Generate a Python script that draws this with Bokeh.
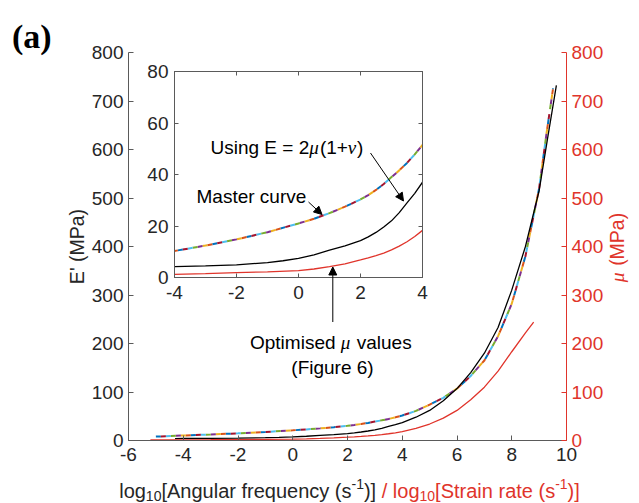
import math
from bokeh.plotting import figure
from bokeh.models import Range1d, LinearAxis, FixedTicker, Label, Arrow, NormalHead, GridBox
from bokeh.embed import file_html
from bokeh.resources import INLINE

# ---------------- data ----------------
x_ticks_main = [-6, -4, -2, 0, 2, 4, 6, 8, 10]
y_ticks_main = [0, 100, 200, 300, 400, 500, 600, 700, 800]
x_ticks_inset = [-4, -2, 0, 2, 4]
y_ticks_inset = [0, 20, 40, 60, 80]

# master curve E' (black)
master_logw = [-4.3, -4, -3, -2, -1, -0.5, 0, 0.5, 1, 1.5, 2, 2.25, 2.5, 2.75, 3, 3.25, 3.5,
               3.75, 4, 4.5, 5, 5.5, 6, 6.5, 7, 7.5, 8, 8.5, 9, 9.3, 9.63]
master_E = [4.0, 4.2, 4.5, 4.9, 5.8, 6.5, 7.4, 8.8, 10.6, 12.3, 14.3, 15.8, 17.5, 19.6, 22.0,
            25.2, 29.0, 32.7, 37.0, 48, 62, 82, 107, 140, 180, 233, 310, 400, 515, 620, 732]

# E computed from mu using E = 2 mu (1 + nu)  (several overlapping series)
conv_logw = [-5.0, -4, -3, -2, -1, 0, 0.5, 1, 1.5, 2, 2.25, 2.5, 2.75, 3, 3.25, 3.5, 3.75, 4,
             4.5, 5, 5.5, 6, 6.5, 7, 7.5, 8, 8.5, 9, 9.27, 9.51]
conv_E = [8.0, 10.3, 12.4, 14.8, 17.6, 21.0, 22.8, 25.0, 27.5, 30.3, 32.0, 34.0, 36.3, 39.0,
          41.6, 44.5, 47.8, 51.5, 61, 74, 88, 107, 133, 165, 215, 282, 380, 520, 633, 726]
conv_colors = ["#0072BD", "#D95319", "#EDB120", "#7E2F8E", "#77AC30", "#4DBEEE", "#A2142F"]
conv_end = [9.51, 9.51, 9.51, 9.51, 9.51, 9.27, 9.51]

# optimised mu values (red) vs log10 strain rate
mu_logr = [-5.2, -4, -3, -2, -1, 0, 0.5, 1, 1.5, 2, 2.25, 2.5, 2.75, 3, 3.25, 3.5, 3.75, 4,
           4.5, 5, 5.5, 6, 6.5, 7, 7.5, 8, 8.5, 8.8]
mu_val = [1.0, 1.2, 1.5, 1.9, 2.2, 2.7, 3.3, 4.2, 5.3, 6.8, 7.6, 8.5, 9.5, 10.7, 12.2, 13.9,
          15.9, 18.3, 25, 34, 46, 62, 84, 110, 143, 183, 222, 244]

# ---------------- style ----------------
W, H = 639, 503
RED = "#E0342B"
AX = "#5a5a5a"
TXT = "#262626"
SANS = "Liberation Sans"
SERIF = "Liberation Serif"
TICK = "19px"
FRAME_L, FRAME_R, FRAME_T, FRAME_B = 128, 566, 52, 440
IFL, IFR, IFT, IFB = 174, 422, 71, 277

SANS_W = {' ': 278, '(': 333, ')': 333, '+': 584, '-': 333, '/': 278, '=': 584, '[': 278,
          ']': 278, "'": 191, 'A': 667, 'E': 667, 'F': 611, 'M': 833, 'O': 778, 'P': 667,
          'S': 667, 'U': 722, 'a': 556, 'c': 500, 'd': 556, 'e': 556, 'f': 278, 'g': 556,
          'i': 222, 'l': 222, 'm': 833, 'n': 556, 'o': 556, 'p': 556, 'q': 556, 'r': 333,
          's': 500, 't': 278, 'u': 556, 'v': 500, 'y': 500}
SERIF_I_W = {'μ': 560, 'ν': 480, ' ': 250}


def text_width(txt, font, size):
    table = SERIF_I_W if font == SERIF else SANS_W
    return sum(table.get(c, 556) for c in txt) / 1000.0 * size


def style_axis(ax, ticks, color=AX, label_color=TXT, standoff=5, tick_len=5):
    ax.ticker = FixedTicker(ticks=ticks)
    ax.major_label_overrides = {t: str(t) for t in ticks}
    ax.axis_line_color = color
    ax.axis_line_width = 1
    ax.major_tick_line_color = color
    ax.major_tick_in = tick_len
    ax.major_tick_out = 0
    ax.minor_tick_line_color = None
    ax.major_label_text_font = SANS
    ax.major_label_text_font_size = TICK
    ax.major_label_text_color = label_color
    ax.major_label_standoff = standoff


# ---------------- main figure ----------------
p = figure(width=W, height=H, x_range=Range1d(-6, 10), y_range=Range1d(0, 800),
           output_backend="svg", toolbar_location=None, frame_align=False,
           min_border_left=FRAME_L, min_border_right=W - FRAME_R,
           min_border_top=FRAME_T, min_border_bottom=H - FRAME_B)
p.grid.visible = False
p.outline_line_color = None
p.background_fill_color = "white"
p.border_fill_color = "white"

style_axis(p.xaxis[0], x_ticks_main, standoff=7)
style_axis(p.yaxis[0], y_ticks_main)
p.yaxis.axis_label = "E' (MPa)"
p.yaxis.axis_label_text_font = SANS
p.yaxis.axis_label_text_font_size = "19.5px"
p.yaxis.axis_label_text_font_style = "normal"
p.yaxis.axis_label_text_color = TXT
p.yaxis.axis_label_standoff = 1

p.extra_y_ranges = {"mu": Range1d(0, 800)}
ry = LinearAxis(y_range_name="mu")
style_axis(ry, y_ticks_main, color=RED, label_color=RED)
p.add_layout(ry, "right")

for i, col in enumerate(conv_colors):
    n = sum(1 for v in conv_logw if v <= conv_end[i])
    p.line(conv_logw[:n], conv_E[:n], line_color=col, line_width=2,
           line_dash="5 30", line_dash_offset=5 * i)
p.line(master_logw, master_E, line_color="black", line_width=1.3)
p.line(mu_logr, mu_val, line_color=RED, line_width=1.3, y_range_name="mu")

# ---------------- inset (same canvas size, frame placed by borders) ----------------
inset = figure(width=W, height=H, x_range=Range1d(-4, 4), y_range=Range1d(0, 80),
               output_backend="svg", toolbar_location=None, frame_align=False,
               min_border_left=IFL, min_border_right=W - IFR,
               min_border_top=IFT, min_border_bottom=H - IFB)
inset.grid.visible = False
inset.background_fill_color = None
inset.border_fill_color = None
inset.outline_line_color = AX
style_axis(inset.xaxis[0], x_ticks_inset, standoff=8, tick_len=4)
style_axis(inset.yaxis[0], y_ticks_inset, standoff=6, tick_len=4)
top_ax = LinearAxis()
right_ax = LinearAxis()
style_axis(top_ax, x_ticks_inset, tick_len=4)
style_axis(right_ax, y_ticks_inset, tick_len=4)
for ax in (top_ax, right_ax):
    ax.major_label_text_font_size = "0px"
    ax.major_label_text_color = None
    ax.major_label_standoff = 0
inset.add_layout(top_ax, "above")
inset.add_layout(right_ax, "right")

for i, col in enumerate(conv_colors):
    inset.line(conv_logw, conv_E, line_color=col, line_width=2,
               line_dash="5 30", line_dash_offset=5 * i)
inset.line(master_logw, master_E, line_color="black", line_width=1.3)
inset.line(mu_logr, mu_val, line_color=RED, line_width=1.3)

# ---------------- text / arrow overlay (frame = whole canvas) ----------------
ov = figure(width=W, height=H, x_range=Range1d(0, W), y_range=Range1d(0, H),
            x_axis_type=None, y_axis_type=None, output_backend="svg", toolbar_location=None,
            frame_align=False,
            min_border_left=0, min_border_right=0, min_border_top=0, min_border_bottom=0)
ov.grid.visible = False
ov.outline_line_color = None
ov.background_fill_color = None
ov.border_fill_color = None


def add_text(pieces, x, y, angle=0.0, center=False):
    """pieces: (text, font, style, size, color, baseline shift down). x,y canvas px."""
    total = sum(text_width(t, f, s) for t, f, st, s, c, d in pieces)
    pos = -total / 2 if center else 0.0
    ca, sa = math.cos(angle), math.sin(angle)
    for t, f, st, s, c, d in pieces:
        stripped = t.lstrip(" ")
        lead = text_width(t[:len(t) - len(stripped)], f, s)
        q = pos + lead
        cx = x + q * ca + d * sa
        cy = y - q * sa + d * ca
        ov.add_layout(Label(x=cx, y=H - cy, x_units="screen", y_units="screen",
                            text=stripped.rstrip(" "), angle=angle, text_font=f,
                            text_font_style=st, text_font_size=f"{s}px", text_color=c,
                            text_align="left", text_baseline="alphabetic"))
        pos += text_width(t, f, s)


def add_arrow(x0, y0, x1, y1):
    ov.add_layout(Arrow(end=NormalHead(size=8, fill_color="black", line_color="black", line_width=1),
                        x_start=x0, y_start=H - y0, x_end=x1, y_end=H - y1,
                        start_units="screen", end_units="screen",
                        line_color="black", line_width=1))


# panel label
add_text([("(a)", SERIF, "bold", 34, "black", 0)], 11.5, 36)

# x-axis title (two colours, sub/superscripts)
LB, SB = 20, 14
add_text([
    ("log", SANS, "normal", LB, TXT, 0),
    ("10", SANS, "normal", SB, TXT, 5),
    ("[Angular frequency (s", SANS, "normal", LB, TXT, 0),
    ("-1", SANS, "normal", SB, TXT, -7),
    (")]", SANS, "normal", LB, TXT, 0),
    (" / log", SANS, "normal", LB, RED, 0),
    ("10", SANS, "normal", SB, RED, 5),
    ("[Strain rate (s", SANS, "normal", LB, RED, 0),
    ("-1", SANS, "normal", SB, RED, -7),
    (")]", SANS, "normal", LB, RED, 0),
], 349, 490, center=True)

# right axis title
add_text([("μ", SERIF, "italic", 19.5, RED, 0),
          (" (MPa)", SANS, "normal", 19.5, RED, 0)], 616.5, 247, angle=math.pi / 2, center=True)

# inset annotations
TS = 19
add_text([("Using E = 2", SANS, "normal", TS, "black", 0),
          ("μ", SERIF, "italic", TS, "black", 0),
          ("(1+", SANS, "normal", TS, "black", 0),
          ("ν", SERIF, "italic", TS, "black", 0),
          (")", SANS, "normal", TS, "black", 0)], 210, 147)
add_text([("Master curve", SANS, "normal", TS, "black", 0)], 196, 196)
add_text([("Optimised ", SANS, "normal", TS, "black", 0),
          ("μ", SERIF, "italic", TS, "black", 0),
          (" values", SANS, "normal", TS, "black", 0)], 249.5, 341.5)
add_text([("(Figure 6)", SANS, "normal", TS, "black", 0)], 332, 367, center=True)

add_arrow(308, 201.5, 321.5, 214)
add_arrow(370, 152.5, 403, 200.5)
add_arrow(332.3, 321.5, 332.3, 266.5)

layout = GridBox(children=[(p, 0, 0), (inset, 0, 0), (ov, 0, 0)])
open("out.html", "w").write(file_html(layout, INLINE))
